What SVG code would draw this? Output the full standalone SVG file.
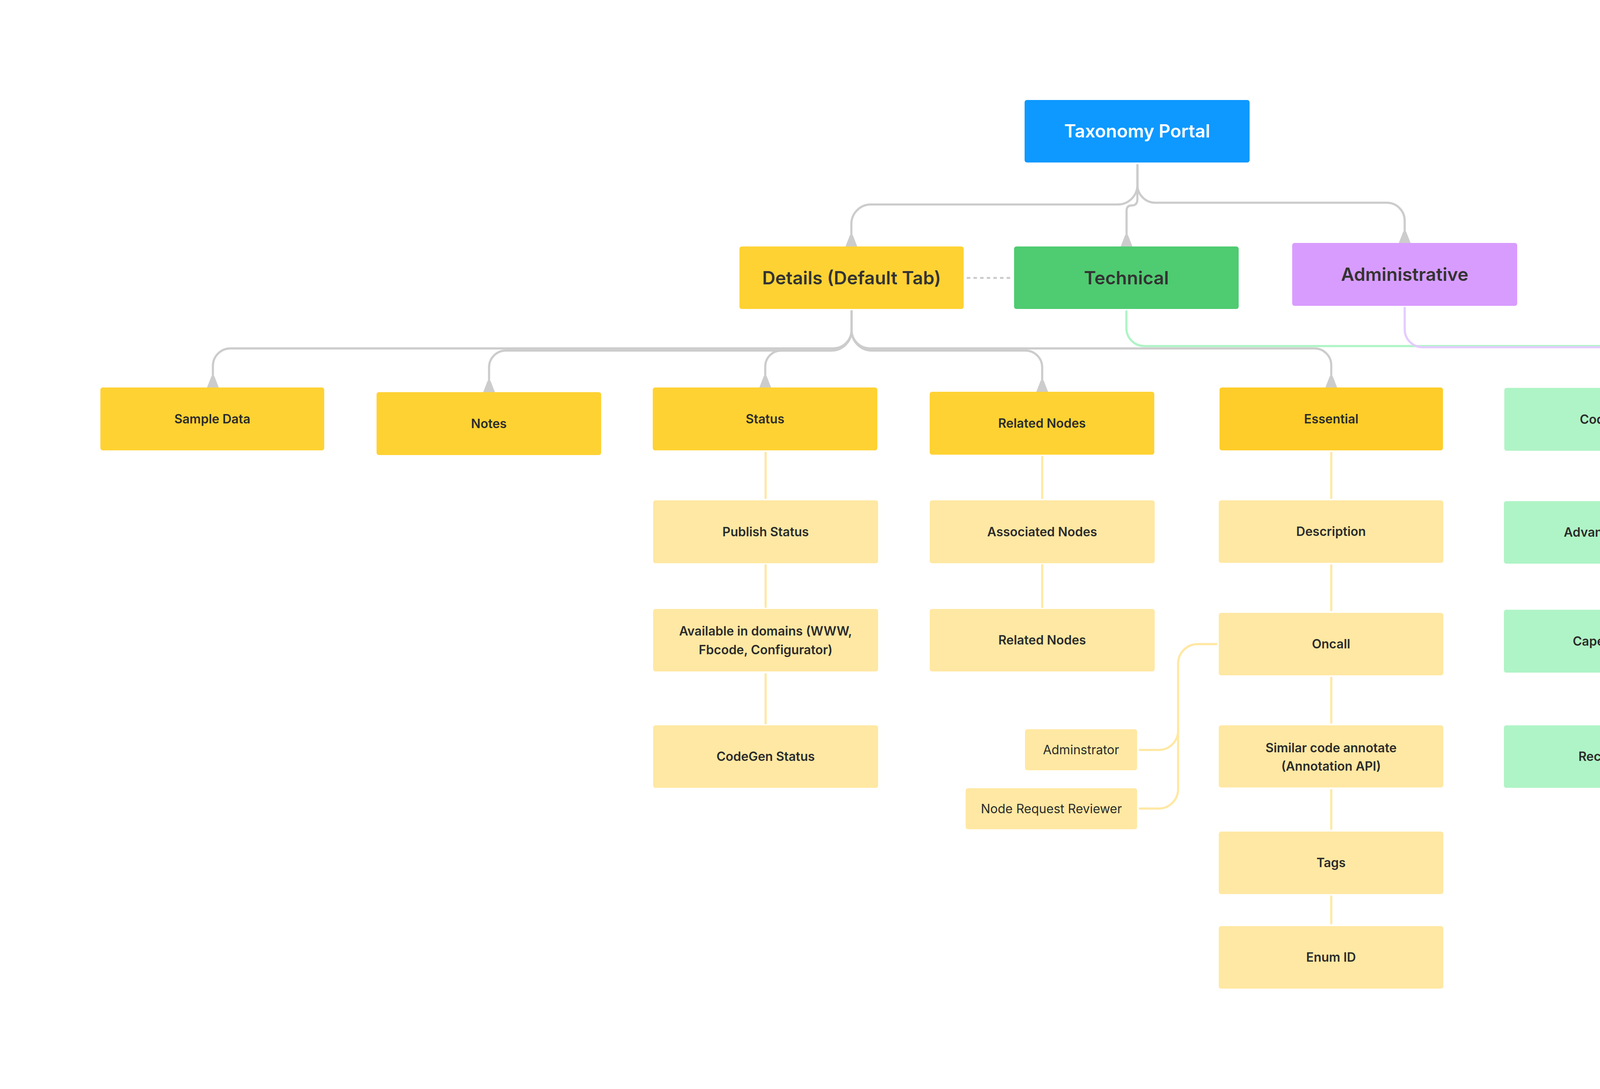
<svg xmlns="http://www.w3.org/2000/svg" width="5394" height="2788" viewBox="0 0 5394 2788">
<defs>
<style>
.t{font-family:Inter,"Noto Sans","Liberation Sans",sans-serif;text-anchor:middle;fill:#2b2b2b;font-weight:600}
.t0{font-size:46px;fill:#ffffff}
.t1{font-size:46.5px;fill:#333333}
.t2{font-size:32px}
.reg{font-weight:400}
.gray{fill:none;stroke:#cdcccc;stroke-width:5.5;stroke-linecap:round;stroke-linejoin:round}
.yl{fill:none;stroke:#ffe8a3;stroke-width:5.5;stroke-linecap:round;stroke-linejoin:round}
.gr{fill:none;stroke:#aff4c6;stroke-width:5.5;stroke-linecap:round;stroke-linejoin:round}
.pu{fill:none;stroke:#e4ccff;stroke-width:5.5;stroke-linecap:round;stroke-linejoin:round}
.dash{fill:none;stroke:#cdcccc;stroke-width:5;stroke-dasharray:9 8}
</style>
<marker id="flare" viewBox="0 0 30 32" markerUnits="userSpaceOnUse" markerWidth="30" markerHeight="32" refX="29" refY="16" orient="auto">
<path d="M0,13.3 L29,2 L29,30 L0,18.7 Z" fill="#cdcccc" stroke="#cdcccc" stroke-width="2" stroke-linejoin="round"/>
</marker>
</defs>
<rect width="5394" height="2788" fill="#ffffff"/>

<g id="connectors">
<path class="gray" d="M2911.7,423 V473 A50,50 0 0 1 2861.7,523.5 H2229 A50,50 0 0 0 2179.5,573.5 V631" marker-end="url(#flare)"/>
<path class="gray" d="M2911.7,423 V510 Q2911.7,526 2897,526 Q2884,526 2884,540 V631" marker-end="url(#flare)"/>
<path class="gray" d="M2911.7,423 V473 A46,46 0 0 0 2957.7,519 H3550 A46,46 0 0 1 3596,565 V622" marker-end="url(#flare)"/>
<path class="dash" d="M2475,711.5 H2590"/>
<path class="gray" d="M2180,797 V845 A47,47 0 0 1 2133,892 H590 A45,45 0 0 0 545,937 V992" marker-end="url(#flare)"/>
<path class="gray" d="M2180,797 V845 A52,52 0 0 1 2128,897.5 H1295 A43,43 0 0 0 1252,940 V1004" marker-end="url(#flare)"/>
<path class="gray" d="M2180,797 V845 A52,52 0 0 1 2128,897.5 H2000 A41,41 0 0 0 1959,938 V992" marker-end="url(#flare)"/>
<path class="gray" d="M2180,797 V845 A52,52 0 0 0 2232,897.5 H2625 A43,43 0 0 1 2668,940 V1003" marker-end="url(#flare)"/>
<path class="gray" d="M2180,797 V845 A47,47 0 0 0 2227,892 H3365 A43,43 0 0 1 3408,935 V992" marker-end="url(#flare)"/>
<path class="gr" d="M2883.5,797 V840 A46,46 0 0 0 2929.5,886 H4095 A43,43 0 0 1 4138,929 V993"/>
<path class="pu" d="M3596,788 V843 A46,46 0 0 0 3642,889 H4806 A43,43 0 0 1 4849,932 V987"/>
<path class="yl" d="M1960,1159 V1275"/>
<path class="yl" d="M1960,1447 V1554"/>
<path class="yl" d="M1960,1726 V1852"/>
<path class="yl" d="M2668,1170 V1275"/>
<path class="yl" d="M2668,1447 V1554"/>
<path class="yl" d="M3408,1159 V1275"/>
<path class="yl" d="M3408,1447 V1562"/>
<path class="yl" d="M3408,1735 V1850"/>
<path class="yl" d="M3408,2023 V2122"/>
<path class="yl" d="M3408,2295 V2364"/>
<path class="yl" d="M3114,1649 H3066 A50,50 0 0 0 3016,1699 V2020 A50,50 0 0 1 2966,2070 H2918"/>
<path class="yl" d="M2918,1920 H2966 A50,50 0 0 0 3016,1870"/>
<path class="gr" d="M4137.5,1154 V1276"/>
<path class="gr" d="M4137.5,1449 V1555"/>
<path class="gr" d="M4137.5,1728 V1851"/>
<path class="pu" d="M4850,1160 V1281"/>
<path class="pu" d="M4842,1442 V1553"/>
</g>

<g id="taxonomy-portal"><rect x="2623" y="256" width="576" height="160" rx="6" fill="#0d99ff"/><text class="t t0" x="2911" y="352">Taxonomy Portal</text></g>

<g id="details"><rect x="1893" y="631" width="574" height="160" rx="6" fill="#ffd233"/><text class="t t1" x="2180" y="728">Details (Default Tab)</text></g>
<g id="technical"><rect x="2596" y="631" width="575" height="160" rx="6" fill="#4fcb71"/><text class="t t1" x="2883.5" y="728">Technical</text></g>
<g id="administrative"><rect x="3308" y="622" width="576" height="161" rx="6" fill="#d89cff"/><text class="t t1" x="3596" y="719">Administrative</text></g>

<g id="sample-data"><rect x="257" y="992" width="573" height="161" rx="6" fill="#ffd233"/><text class="t t2" x="543.5" y="1084">Sample Data</text></g>
<g id="notes"><rect x="964" y="1004" width="575" height="161" rx="6" fill="#ffd233"/><text class="t t2" x="1251.5" y="1096">Notes</text></g>
<g id="status"><rect x="1671" y="992" width="575" height="161" rx="6" fill="#ffd233"/><text class="t t2" x="1958.5" y="1084">Status</text></g>
<g id="related-nodes"><rect x="2380" y="1003" width="575" height="161" rx="6" fill="#ffd233"/><text class="t t2" x="2667.5" y="1095">Related Nodes</text></g>
<g id="essential"><rect x="3122" y="992" width="572" height="161" rx="6" fill="#ffcd29"/><text class="t t2" x="3408" y="1084">Essential</text></g>
<g id="code-usage"><rect x="3851" y="993" width="575" height="161" rx="6" fill="#aff4c6"/><text class="t t2" x="4138.5" y="1085">Code Usage</text></g>
<g id="open-diffs"><rect x="4562" y="993" width="574" height="161" rx="6" fill="#e4ccff"/><text class="t t2" x="4849" y="1085">Open diffs to review</text></g>

<g id="publish-status"><rect x="1672" y="1281" width="576" height="161" rx="6" fill="#ffe8a3"/><text class="t t2" x="1960" y="1373">Publish Status</text></g>
<g id="available-domains"><rect x="1672" y="1559" width="576" height="160" rx="6" fill="#ffe8a3"/><text class="t t2" x="1960" y="1627">Available in domains (WWW,</text><text class="t t2" x="1960" y="1675">Fbcode, Configurator)</text></g>
<g id="codegen-status"><rect x="1672" y="1857" width="576" height="160" rx="6" fill="#ffe8a3"/><text class="t t2" x="1960" y="1948">CodeGen Status</text></g>

<g id="associated-nodes"><rect x="2380" y="1281" width="576" height="161" rx="6" fill="#ffe8a3"/><text class="t t2" x="2668" y="1373">Associated Nodes</text></g>
<g id="related-nodes-2"><rect x="2380" y="1559" width="576" height="160" rx="6" fill="#ffe8a3"/><text class="t t2" x="2668" y="1650">Related Nodes</text></g>

<g id="description"><rect x="3120" y="1281" width="575" height="160" rx="6" fill="#ffe8a3"/><text class="t t2" x="3407.5" y="1372">Description</text></g>
<g id="oncall"><rect x="3120" y="1569" width="575" height="160" rx="6" fill="#ffe8a3"/><text class="t t2" x="3407.5" y="1660">Oncall</text></g>
<g id="similar-code"><rect x="3120" y="1857" width="575" height="159" rx="6" fill="#ffe8a3"/><text class="t t2" x="3407.5" y="1926">Similar code annotate</text><text class="t t2" x="3407.5" y="1973">(Annotation API)</text></g>
<g id="tags"><rect x="3120" y="2129" width="575" height="160" rx="6" fill="#ffe8a3"/><text class="t t2" x="3407.5" y="2220">Tags</text></g>
<g id="enum-id"><rect x="3120" y="2371" width="575" height="160" rx="6" fill="#ffe8a3"/><text class="t t2" x="3407.5" y="2462">Enum ID</text></g>
<g id="adminstrator"><rect x="2624" y="1867" width="287" height="105" rx="6" fill="#ffe8a3"/><text class="t t2 reg" x="2767.5" y="1931">Adminstrator</text></g>
<g id="node-request-reviewer"><rect x="2472" y="2018" width="439" height="105" rx="6" fill="#ffe8a3"/><text class="t t2 reg" x="2691.5" y="2082">Node Request Reviewer</text></g>

<g id="advanced-config"><rect x="3850" y="1283" width="575" height="160" rx="6" fill="#aff4c6"/><text class="t t2" x="4137.5" y="1374">Advanced Config</text></g>
<g id="capella-usage"><rect x="3850" y="1561" width="575" height="161" rx="6" fill="#aff4c6"/><text class="t t2" x="4137.5" y="1653">Capella Usage</text></g>
<g id="recent-sync"><rect x="3850" y="1857" width="575" height="160" rx="6" fill="#aff4c6"/><text class="t t2" x="4137.5" y="1948">Recent Sync</text></g>

<g id="ownership"><rect x="4546" y="1281" width="591" height="161" rx="6" fill="#e4ccff"/><text class="t t2" x="4841.5" y="1373">Ownerhsip</text></g>
<g id="change-history"><rect x="4546" y="1559" width="591" height="160" rx="6" fill="#e4ccff"/><text class="t t2" x="4841.5" y="1650">Change history</text></g>
</svg>
